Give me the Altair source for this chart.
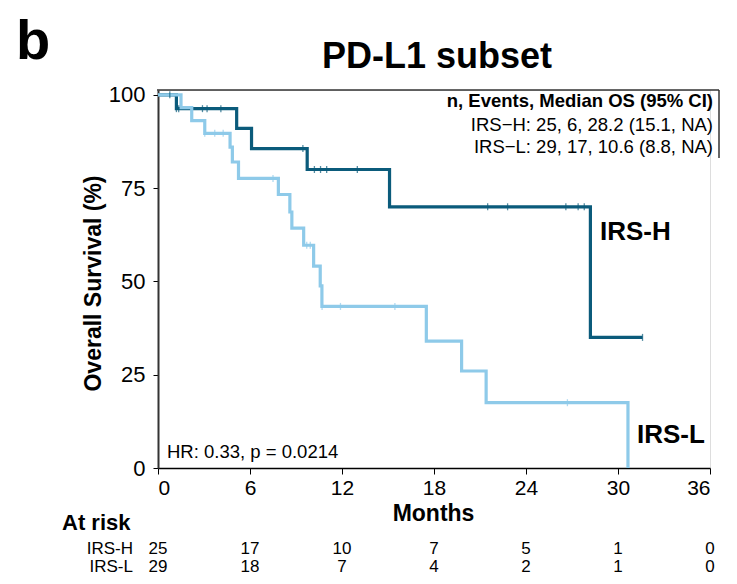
import altair as alt
import pandas as pd

# ---- data ----
h_times = [0, 1.2, 5.13, 6.1, 9.73, 15.1, 28.2, 31.6]
h_surv = [100, 96.3, 91.0, 85.6, 80.0, 70.0, 35.0, 35.0]
h_cens = [0.77, 1.2, 1.35, 2.9, 3.2, 4.1, 9.45, 10.2, 10.6, 11.0, 13.0,
          21.5, 22.8, 26.6, 27.4, 27.8, 31.6]

l_times = [0, 1.5, 2.2, 3.05, 4.7, 4.85, 5.25, 7.85, 8.6, 8.73, 9.5, 10.15,
           10.58, 10.69, 17.5, 19.8, 21.4, 30.65]
l_surv = [100, 96.6, 93.1, 89.7, 86.0, 82.0, 77.6, 73.3, 68.6, 64.3, 59.7,
          54.1, 48.8, 43.3, 34.0, 26.0, 17.5, 0]
l_cens = [3.05, 3.7, 4.25, 7.5, 9.7, 9.93, 10.7, 11.9, 15.45, 26.7]

risk_times = [0, 6, 12, 18, 24, 30, 36]
risk_h = [25, 17, 10, 7, 5, 1, 0]
risk_l = [29, 18, 7, 4, 2, 1, 0]

groups = ["IRS-H", "IRS-L"]
colors = ["#0b5b7b", "#8ecae9"]

FONT = "Liberation Sans, Arial, sans-serif"


def surv_at(times, surv, t):
    idx = max(i for i, tt in enumerate(times) if tt <= t)
    return surv[idx]


curve_rows = []
for g, ts, ss in [("IRS-H", h_times, h_surv), ("IRS-L", l_times, l_surv)]:
    for t, s in zip(ts, ss):
        curve_rows.append({"group": g, "t": t, "s": s})
curves = pd.DataFrame(curve_rows)

cens_rows = []
for g, cs, ts, ss in [("IRS-H", h_cens, h_times, h_surv), ("IRS-L", l_cens, l_times, l_surv)]:
    for c in cs:
        cens_rows.append({"group": g, "t": c, "s": surv_at(ts, ss, c)})
cens = pd.DataFrame(cens_rows)

xscale = alt.Scale(domain=[0, 36], nice=False, zero=False)
yscale = alt.Scale(domain=[0, 101.3], nice=False)
cscale = alt.Scale(domain=groups, range=colors)

xaxis = alt.Axis(values=risk_times, title="Months", grid=False,
                 labelFontSize=21, labelFont=FONT, labelColor="black", labelPadding=3,
                 tickSize=6, tickColor="black", domainColor="black", domainWidth=1.5,
                 titleFontSize=23, titleFont=FONT, titleFontWeight="bold", titleColor="black",
                 titleX=275, titleY=45, titleBaseline="middle")
yaxis = alt.Axis(values=[0, 25, 50, 75, 100], title="Overall Survival (%)", grid=False,
                 labelFontSize=22, labelFont=FONT, labelColor="black", labelPadding=8,
                 tickSize=5, tickColor="black", domainColor="#333333", domainWidth=2,
                 titleFontSize=23, titleFont=FONT, titleFontWeight="bold", titleColor="black",
                 titleX=-65, titleY=193, titleBaseline="middle", titleAngle=-90)

lines = alt.Chart(curves).mark_line(interpolate="step-after", strokeWidth=3.2).encode(
    x=alt.X("t:Q", scale=xscale, axis=xaxis),
    y=alt.Y("s:Q", scale=yscale, axis=yaxis),
    color=alt.Color("group:N", scale=cscale, legend=None),
    detail="group:N",
)

ticks = alt.Chart(cens).mark_tick(orient="vertical", size=7, thickness=1.3).encode(
    x=alt.X("t:Q", scale=xscale),
    y=alt.Y("s:Q", scale=yscale),
    color=alt.Color("group:N", scale=cscale, legend=None),
)


def label(text, x, y, size, bold=False, align="left", baseline="middle", color="black"):
    return alt.Chart(pd.DataFrame({"txt": [text]})).mark_text(
        font=FONT, fontSize=size, fontWeight="bold" if bold else "normal",
        align=align, baseline=baseline, color=color
    ).encode(text="txt:N", x=alt.value(x), y=alt.value(y))


def risk_row(counts, ypix):
    df = pd.DataFrame({"t": risk_times, "n": counts})
    return alt.Chart(df).mark_text(font=FONT, fontSize=17, color="black",
                                   align="center", baseline="middle").encode(
        x=alt.X("t:Q", scale=xscale),
        y=alt.value(ypix),
        text="n:Q",
    )


top_rule = alt.Chart(pd.DataFrame({"a": [0]})).mark_rule(color="#333333", strokeWidth=1.5).encode(
    x=alt.value(-1), x2=alt.value(561), y=alt.value(0))
right_rule = alt.Chart(pd.DataFrame({"a": [0]})).mark_rule(color="#333333", strokeWidth=1.5).encode(
    x=alt.value(561), y=alt.value(0), y2=alt.value(68))

layers = [
    lines, ticks, top_rule, right_rule,
    label("b", -142, -31, 56, bold=True, baseline="alphabetic"),
    label("PD-L1 subset", 279, -22, 36, bold=True, align="center", baseline="alphabetic"),
    label("n, Events, Median OS (95% CI)", 555, 11, 18.5, bold=True, align="right"),
    label("IRS\u2212H: 25, 6, 28.2 (15.1, NA)", 555, 35, 18.5, align="right"),
    label("IRS\u2212L: 29, 17, 10.6 (8.8, NA)", 555, 57, 18.5, align="right"),
    label("IRS-H", 442, 142, 26, bold=True),
    label("IRS-L", 479, 345, 26, bold=True),
    label("HR: 0.33, p = 0.0214", 9, 362, 18.5),
    label("At risk", -96, 433, 22, bold=True),
    label("IRS-H", -25, 459, 17, align="right"),
    label("IRS-L", -25, 477, 17, align="right"),
    risk_row(risk_h, 459),
    risk_row(risk_l, 477),
]

chart = alt.layer(*layers).properties(
    width=552, height=378,
    autosize=alt.AutoSizeParams(type="none"),
    padding={"left": 150, "top": 82, "right": 19, "bottom": 108},
).configure_view(stroke=None).configure(background="white")

chart.save("out.html", embed_options={"renderer": "svg", "actions": False})
